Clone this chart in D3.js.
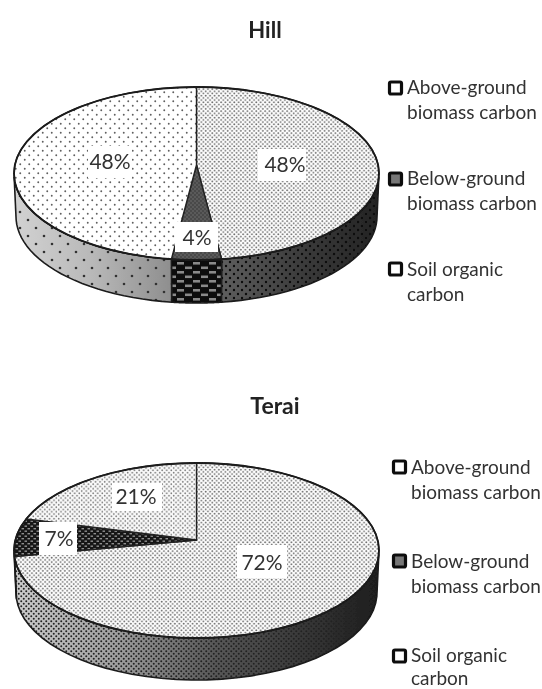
<!DOCTYPE html>
<html><head><meta charset="utf-8">
<script src="https://cdn.jsdelivr.net/npm/d3@7"></script>
<style>html,body{margin:0;background:#fff}svg{display:block}text{font-family:Lato,"Open Sans",sans-serif;fill:#333}</style>
</head><body><div id="c"></div>
<script>
const categories = ["Above-ground biomass carbon","Below-ground biomass carbon","Soil organic carbon"];
const legendLines = [["Above-ground","biomass carbon"],["Below-ground","biomass carbon"],["Soil organic","carbon"]];
const hillValues = [48,4,48];
const teraiValues = [72,7,21];
const W=542,H=689;
const svg=d3.select("#c").append("svg").attr("width",W).attr("height",H);
const defs=svg.append("defs");
defs.append("filter").attr("id","soft").append("feGaussianBlur").attr("stdDeviation",0.4);

function pat(id,size,bg,dots,fg,r){
  const p=defs.append("pattern").attr("id",id).attr("patternUnits","userSpaceOnUse").attr("width",size).attr("height",size);
  p.append("rect").attr("width",size).attr("height",size).attr("fill",bg);
  dots.forEach(d=>p.append("circle").attr("cx",d[0]*size).attr("cy",d[1]*size).attr("r",r).attr("fill",fg));
}
const dd=[[.25,.25],[.75,.75]];
pat("topAbove",4.4,"#ffffff",dd,"#6e6e6e",.95);
pat("topSoilSparse",9,"#ffffff",dd,"#5f5f5f",.95);
pat("topSoilDense",4.6,"#fbfbfb",dd,"#777",.85);
pat("topBelowGray",4,"#5a5a5a",dd,"#333",.8);
const ck=defs.append("pattern").attr("id","check").attr("patternUnits","userSpaceOnUse").attr("width",16).attr("height",9);
ck.append("rect").attr("width",16).attr("height",9).attr("fill","#0a0a0a");
ck.append("rect").attr("x",1).attr("y",1).attr("width",7).attr("height",2.6).attr("fill","#8a8a8a");
ck.append("rect").attr("x",9).attr("y",5.5).attr("width",7).attr("height",2.6).attr("fill","#8a8a8a");
const ck2=defs.append("pattern").attr("id","checkFine").attr("patternUnits","userSpaceOnUse").attr("width",6).attr("height",5);
ck2.append("rect").attr("width",6).attr("height",5).attr("fill","#141414");
ck2.append("rect").attr("x",.5).attr("y",.5).attr("width",2.5).attr("height",1.4).attr("fill","#8f8f8f");
ck2.append("rect").attr("x",3.5).attr("y",3).attr("width",2.5).attr("height",1.4).attr("fill","#8f8f8f");

function grad(id,stops){
  const g=defs.append("linearGradient").attr("id",id).attr("x1",0).attr("x2",1).attr("y1",0).attr("y2",0);
  stops.forEach(s=>g.append("stop").attr("offset",s[0]).attr("stop-color",s[1]));
}
grad("sideSoil",[[0,"#d2d2d2"],[.5,"#b8b8b8"],[1,"#8e8e8e"]]);
grad("sideAbove",[[0,"#5e5e5e"],[.5,"#3c3c3c"],[1,"#232323"]]);
grad("sideTerai",[[0,"#cdcdcd"],[.28,"#a0a0a0"],[.55,"#585858"],[1,"#1c1c1c"]]);
const dotp=(id,size,fg,r)=>{const p=defs.append("pattern").attr("id",id).attr("patternUnits","userSpaceOnUse").attr("width",size).attr("height",size);
  dd.forEach(d=>p.append("circle").attr("cx",d[0]*size).attr("cy",d[1]*size).attr("r",r).attr("fill",fg));};
dotp("dSparse",16,"#333",1.3);
dotp("dMed",8,"#0a0a0a",1.2);
dotp("dFine",5,"#222",1);

const pie=d3.pie().sort(null).value(d=>d);

function drawChart(o){
  const g=svg.append("g").attr("filter","url(#soft)");
  const {cx,cy,rx,ry,apexY,depth,values}=o;
  const arcs=pie(values);
  function rim(a){
    const dx=rx*Math.sin(a),dy=-ry*Math.cos(a);
    const oy=apexY-cy;
    const A=dx*dx/(rx*rx)+dy*dy/(ry*ry),B=2*oy*dy/(ry*ry),C=oy*oy/(ry*ry)-1;
    const t=(-B+Math.sqrt(B*B-4*A*C))/(2*A);
    return [cx+t*dx,apexY+t*dy];
  }
  const line=d3.line();
  const sample=(a0,a1)=>d3.range(0,61).map(i=>rim(a0+(a1-a0)*i/60));
  const botRx=rx-2;
  const side=(a0,a1,fills)=>{
    const vis=sample(a0,a1).filter(p=>p[1]>=cy+2);
    if(vis.length<2)return;
    const bot=vis.slice().reverse().map(p=>[cx+(p[0]-cx)*botRx/rx,p[1]+depth]);
    const d=line(vis.concat(bot))+"Z";
    fills.forEach(f=>g.append("path").attr("d",d).attr("fill",f));
    g.append("path").attr("d",d).attr("fill","none").attr("stroke","#1a1a1a").attr("stroke-width",1.6);
  };
  arcs.forEach((a,i)=>side(a.startAngle,a.endAngle,o.sideFills[i]));
  arcs.forEach((a,i)=>{
    const pts=[[cx,apexY]].concat(sample(a.startAngle,a.endAngle));
    g.append("path").attr("d",line(pts)+"Z").attr("fill",o.topFills[i]).attr("stroke","#222").attr("stroke-width",1.4).attr("stroke-linejoin","round");
  });
  g.append("ellipse").attr("cx",cx).attr("cy",cy).attr("rx",rx).attr("ry",ry).attr("fill","none").attr("stroke","#1a1a1a").attr("stroke-width",1.8);
  values.forEach((v,i)=>{
    const [x,y,bx,by,bw,bh]=o.labelAt[i];
    g.append("rect").attr("x",bx).attr("y",by).attr("width",bw).attr("height",bh).attr("fill","#fff");
    g.append("text").attr("x",x).attr("y",y+7).attr("text-anchor","middle").attr("font-size",21).text(v+"%");
  });
  g.append("text").attr("x",o.titleX).attr("y",o.titleY).attr("text-anchor","middle").attr("font-size",o.titleSize).attr("font-weight",700).style("fill","#222").text(o.title);
  categories.forEach((c,i)=>{
    const [sx,sy,by,lh]=o.legend[i];
    g.append("rect").attr("x",sx).attr("y",sy-6).attr("width",12).attr("height",12).attr("rx",1.5)
      .attr("fill",o.legendFill[i]).attr("stroke","#111").attr("stroke-width",3.2);
    legendLines[i].forEach((t,j)=>g.append("text").attr("x",sx+17.5).attr("y",by+j*lh).attr("font-size",19).text(t));
  });
}
drawChart({title:"Hill",titleX:265,titleY:38,titleSize:22,cx:196.5,cy:173.5,rx:182.5,ry:86.5,apexY:165,depth:43,values:hillValues,
  topFills:["url(#topAbove)","url(#topBelowGray)","url(#topSoilSparse)"],
  sideFills:[["url(#sideAbove)","url(#dMed)"],["url(#check)"],["url(#sideSoil)","url(#dSparse)"]],
  labelAt:[[285,165,258,149,48,32],[197,238,175,222,43,30],[110,162,88,146,44,32]],
  legend:[[389.5,88,94,25],[389.5,179,185,25],[389.5,269,276,25]],legendFill:["#fff","#777","#fff"]});
drawChart({title:"Terai",titleX:275,titleY:414,titleSize:23,cx:196.5,cy:550.5,rx:182.5,ry:87.5,apexY:540,depth:42,values:teraiValues,
  topFills:["url(#topAbove)","url(#checkFine)","url(#topSoilDense)"],
  sideFills:[["url(#sideTerai)","url(#dFine)"],["url(#checkFine)"],["url(#sideSoil)"]],
  labelAt:[[262,563,237,545,50,33],[59,539,39,522,38,33],[136,497,112,483,50,28]],
  legend:[[393.5,467,474,25],[393.5,561,568,25],[393.5,656,662,22.5]],legendFill:["#fff","#777","#fff"]});
</script></body></html>
